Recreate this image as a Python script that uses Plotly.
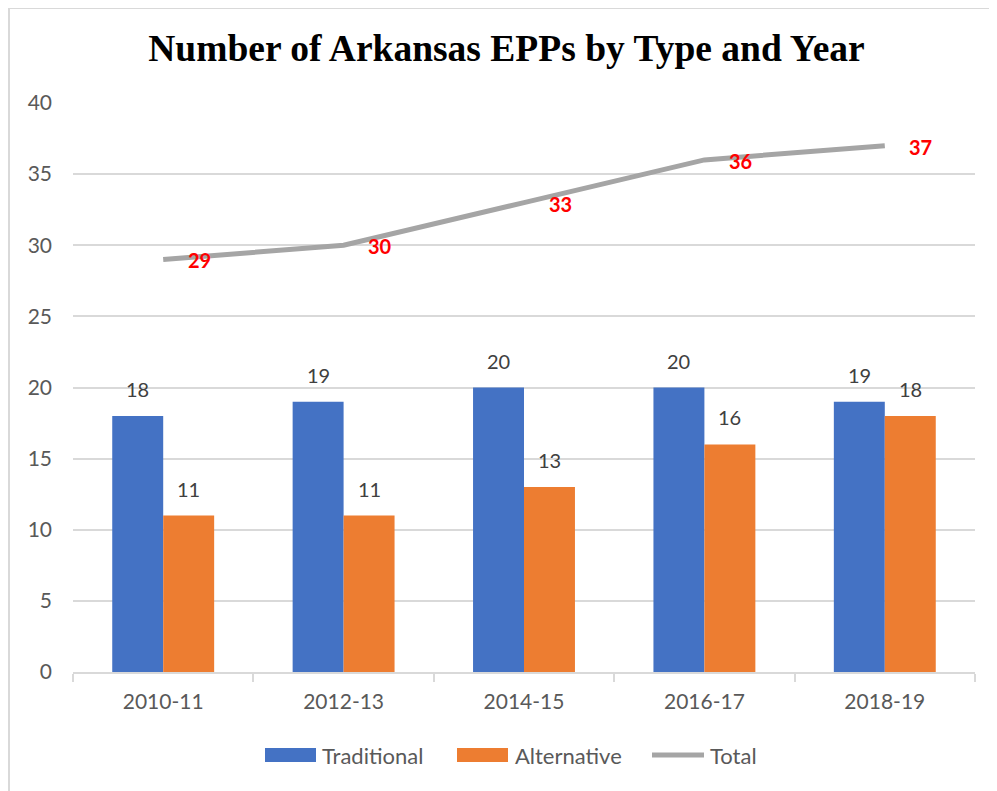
import plotly.graph_objects as go

years = ["2010-11", "2012-13", "2014-15", "2016-17", "2018-19"]
traditional = [18, 19, 20, 20, 19]
alternative = [11, 11, 13, 16, 18]
total = [29, 30, 33, 36, 37]
legend_names = ["Traditional", "Alternative", "Total"]

BLUE = "#4472C4"
ORANGE = "#ED7D31"
GREY = "#A5A5A5"
TXT = "#595959"
FONT = "Lato, Open Sans, sans-serif"

OFF = 8  # page body margin
W, H = 997, 791
L, T = 73 - OFF, 103 - OFF
R = W - (975 - OFF)
B = H - (672 - OFF)
PW, PH = W - L - R, H - T - B


def px(x):
    return (x - OFF - L) / PW


def py(y):
    return (H - B - (y - OFF)) / PH


fig = go.Figure()
fig.add_trace(go.Bar(x=years, y=traditional, name=legend_names[0], marker_color=BLUE,
                     marker_line_width=0))
fig.add_trace(go.Bar(x=years, y=alternative, name=legend_names[1], marker_color=ORANGE,
                     marker_line_width=0))
fig.add_trace(go.Scatter(x=years, y=total, name=legend_names[2], mode="lines",
                         line=dict(color=GREY, width=5)))

ann = []
for yr, t, a, tot in zip(years, traditional, alternative, total):
    ann.append(dict(x=yr, y=t, xref="x", yref="y", text=str(t), showarrow=False,
                    xshift=-25.5, yshift=13, yanchor="bottom",
                    font=dict(family=FONT, size=20, color="#404040")))
    ann.append(dict(x=yr, y=a, xref="x", yref="y", text=str(a), showarrow=False,
                    xshift=25.5, yshift=13, yanchor="bottom",
                    font=dict(family=FONT, size=20, color="#404040")))
    ann.append(dict(x=yr, y=tot, xref="x", yref="y", text="<b>" + str(tot) + "</b>",
                    showarrow=False, xshift=36, yshift=-1,
                    font=dict(family=FONT, size=20, color="#FF0000")))

# outer chart frame
shapes = [dict(type="rect", xref="paper", yref="paper",
               x0=px(9), x1=px(1015), y0=py(810), y1=py(8),
               line=dict(color="#D9D9D9", width=2), layer="below")]
# custom legend (wide swatches like the original)
leg_y = 755
shapes.append(dict(type="rect", xref="paper", yref="paper", x0=px(265), x1=px(316),
                   y0=py(762), y1=py(748), fillcolor=BLUE, line=dict(width=0)))
shapes.append(dict(type="rect", xref="paper", yref="paper", x0=px(457), x1=px(508),
                   y0=py(762), y1=py(748), fillcolor=ORANGE, line=dict(width=0)))
shapes.append(dict(type="line", xref="paper", yref="paper", x0=px(652), x1=px(704),
                   y0=py(leg_y), y1=py(leg_y), line=dict(color=GREY, width=5)))
for name, x0 in zip(legend_names, [320, 513, 708]):
    ann.append(dict(x=px(x0), y=py(leg_y), xref="paper", yref="paper", text=name,
                    showarrow=False, xanchor="left", yanchor="middle",
                    font=dict(family=FONT, size=22, color=TXT)))

fig.update_layout(
    width=W, height=H,
    margin=dict(l=L, r=R, t=T, b=B),
    paper_bgcolor="white", plot_bgcolor="white",
    barmode="group", bargap=0.435, bargroupgap=0,
    title=dict(text="<b>Number of Arkansas EPPs by Type and Year</b>",
               font=dict(family="Liberation Serif, Times New Roman, serif", size=37.5,
                         color="black"),
               x=0.5, xanchor="center", y=0.949, yanchor="middle"),
    font=dict(family=FONT, size=21, color=TXT),
    showlegend=False,
    annotations=ann,
    shapes=shapes,
)
fig.update_yaxes(range=[0, 40], dtick=5, showgrid=True, gridcolor="#D9D9D9", gridwidth=2,
                 zeroline=False, showline=False, ticks="", ticklabelstandoff=20,
                 tickfont=dict(family=FONT, size=21, color=TXT))
fig.update_xaxes(type="category", showline=True, linecolor="#D9D9D9", linewidth=2,
                 ticks="outside", tickson="boundaries", ticklen=8, tickcolor="#D9D9D9",
                 tickwidth=2, tickfont=dict(family=FONT, size=21, color=TXT),
                 ticklabelstandoff=10)

fig.write_html("out.html")
